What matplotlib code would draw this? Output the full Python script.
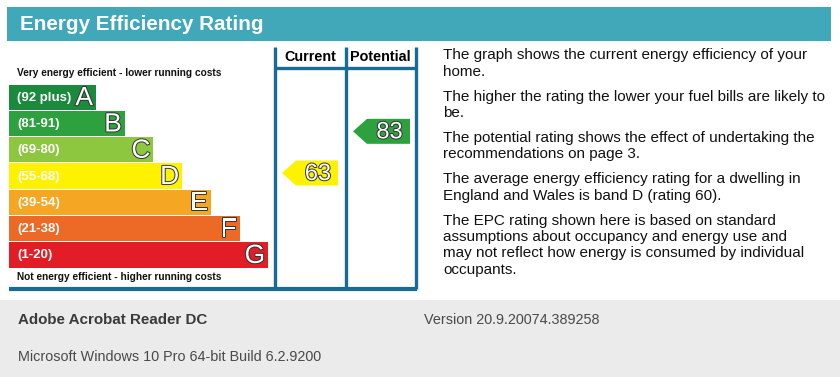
import matplotlib
matplotlib.use('Agg')
import matplotlib.pyplot as plt
from matplotlib.patches import Polygon, Rectangle
import matplotlib.patheffects as pe
from matplotlib import font_manager

# data
bands = ['A', 'B', 'C', 'D', 'E', 'F', 'G']
band_ranges = ['(92 plus)', '(81-91)', '(69-80)', '(55-68)', '(39-54)', '(21-38)', '(1-20)']
band_lo = [92, 81, 69, 55, 39, 21, 1]
band_hi = [100, 91, 80, 68, 54, 38, 20]
band_colors = ['#1b8a3d', '#2ea13f', '#8dc63f', '#fff200', '#f5a623', '#ec6a25', '#e21d26']
current_rating = 63
potential_rating = 83
title = 'Energy Efficiency Rating'
notes = [
    ['The graph shows the current energy efficiency of your', 'home.'],
    ['The higher the rating the lower your fuel bills are likely to', 'be.'],
    ['The potential rating shows the effect of undertaking the', 'recommendations on page 3.'],
    ['The average energy efficiency rating for a dwelling in', 'England and Wales is band D (rating 60).'],
    ['The EPC rating shown here is based on standard',
     'assumptions about occupancy and energy use and',
     'may not reflect how energy is consumed by individual',
     'occupants.'],
]
footer_app = 'Adobe Acrobat Reader DC'
footer_version = 'Version 20.9.20074.389258'
footer_os = 'Microsoft Windows 10 Pro 64-bit Build 6.2.9200'

names = {f.name for f in font_manager.fontManager.ttflist}
sans = 'Liberation Sans' if 'Liberation Sans' in names else 'DejaVu Sans'
narrow = 'Liberation Sans Narrow' if 'Liberation Sans Narrow' in names else sans
plt.rcParams['font.family'] = [sans, 'DejaVu Sans']

W, H = 840, 377
fig = plt.figure(figsize=(W / 100, H / 100), dpi=100)
ax = fig.add_axes([0, 0, 1, 1])
ax.set_xlim(0, W)
ax.set_ylim(H, 0)
ax.axis('off')

teal = '#40a8b9'
blue = '#176b96'

# header
ax.add_patch(Rectangle((7, 7), 824, 34, color=teal, lw=0))
ax.text(20, 24.5, title, color='white', fontsize=14.9, fontweight='bold', va='center', ha='left')

# bands
top, pitch, left = 84, 26.3, 9
centers = [top + pitch * i + pitch / 2 for i in range(len(bands))]
rights = [96 + 28.7 * i for i in range(len(bands))]
ax.barh(centers, [r - left for r in rights], left=left, height=pitch - 1,
        color=band_colors, linewidth=0)
outline = [pe.withStroke(linewidth=1.4, foreground='#333333')]
for i, b in enumerate(bands):
    ax.text(17, centers[i] + 0.5, band_ranges[i], color='white', fontsize=9.5,
            fontweight='bold', va='center', ha='left')
    ax.text(rights[i] - 3, centers[i] + 1, b, color='white', fontsize=19,
            va='center', ha='right', path_effects=outline)

ax.text(17, 72.5, 'Very energy efficient - lower running costs', fontsize=7.3,
        fontweight='bold', va='center', ha='left', color='#111111')
ax.text(17, 277, 'Not energy efficient - higher running costs', fontsize=7.3,
        fontweight='bold', va='center', ha='left', color='#111111')

# column frame
for x in [274.5, 345.5, 415.5]:
    ax.plot([x, x], [47, 289], color=blue, lw=2.4, solid_capstyle='butt')
ax.plot([274.5, 415.5], [67.5, 67.5], color=blue, lw=2.4, solid_capstyle='butt')
ax.plot([9, 417], [289, 289], color=blue, lw=3, solid_capstyle='butt')
ax.text(310, 57, 'Current', fontsize=10.4, fontweight='bold', ha='center', va='center')
ax.text(380.5, 57, 'Potential', fontsize=10.4, fontweight='bold', ha='center', va='center')


def rating_arrow(rating, x_tip, x_right):
    i = next(k for k in range(len(bands)) if band_lo[k] <= rating <= band_hi[k])
    frac = (rating - band_lo[i]) / (band_hi[i] - band_lo[i])
    yc = centers[i] + (0.5 - frac) * pitch
    h = 25
    x_body = x_tip + 14
    ax.add_patch(Polygon([(x_tip, yc), (x_body, yc - h / 2), (x_right, yc - h / 2),
                          (x_right, yc + h / 2), (x_body, yc + h / 2)],
                         closed=True, color=band_colors[i], lw=0))
    ax.text((x_body + x_right) / 2 + 1, yc + 1, str(rating), color='white', fontsize=17,
            ha='center', va='center', path_effects=outline)


rating_arrow(current_rating, 282, 338)
rating_arrow(potential_rating, 353, 410)

# notes
y = 55.5
for para in notes:
    for line in para:
        ax.text(443, y, line, fontsize=10.95, ha='left', va='center', color='#111111')
        y += 16.3
    y += 8.7

# footer
ax.add_patch(Rectangle((0, 300), W, 77, color='#ebebeb', lw=0))
ax.text(18, 320, footer_app, fontsize=10.9, fontweight='bold', family=narrow,
        color='#3a3a3a', va='center', ha='left')
ax.text(424, 320, footer_version, fontsize=10.4, family=narrow,
        color='#4a4a4a', va='center', ha='left')
ax.text(18, 357, footer_os, fontsize=10.4, family=narrow,
        color='#4a4a4a', va='center', ha='left')

fig.savefig('out.png', dpi=100)
